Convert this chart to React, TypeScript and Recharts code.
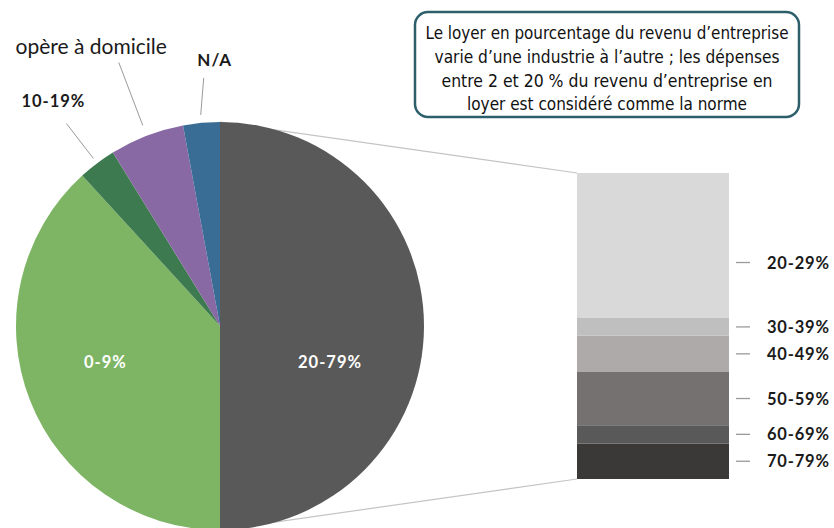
import React from "react";
import { PieChart, Pie, Cell, BarChart, Bar, XAxis, YAxis } from "recharts";

// ---- data ----
const pieNames = ["20-79%", "0-9%", "10-19%", "opère à domicile", "N/A"];
const pieValues = [50, 38.2, 3.0, 5.9, 2.9];

const barNames = ["70-79%", "60-69%", "50-59%", "40-49%", "30-39%", "20-29%"];
const barValues = [5.8, 3.0, 8.7, 5.9, 2.9, 23.7];
const barCategory = "20-79%";

const noteLines = [
  "Le loyer en pourcentage du revenu d’entreprise",
  "varie d’une industrie à l’autre ; les dépenses",
  "entre 2 et 20 % du revenu d’entreprise en",
  "loyer est considéré comme la norme",
];

// ---- styles ----
const pieColors = ["#595959", "#7db564", "#3e7a4f", "#8969a3", "#3a6d96"];
const barColors = ["#3b3838", "#595959", "#767171", "#aeaaaa", "#bfbfbf", "#d9d9d9"];
const noteLineWidths = [363, 345, 331, 280];

const PIE_CX = 220;
const PIE_CY = 326;
const PIE_R = 204;
const BAR_LEFT = 577;
const BAR_TOP = 173;
const BAR_W = 152;
const BAR_H = 306;

const boldFont = "Lato, 'DejaVu Sans', sans-serif";
const noteFont = "'DejaVu Sans Condensed', 'DejaVu Sans', sans-serif";

type LabelCfg = {
  inside?: boolean;
  r?: number;
  dy?: number;
  gap?: number;
  vx?: number;
  vy?: number;
  tx?: number;
  ty?: number;
  bold?: boolean;
  size?: number;
};

const pieLabelStyle: Record<string, LabelCfg> = {
  "20-79%": { inside: true, r: 110, dy: 36 },
  "0-9%": { inside: true, r: 123, dy: -8.5 },
  "10-19%": { gap: 6, vx: -27, vy: -35, tx: -13, ty: -22, bold: true, size: 16.5 },
  "opère à domicile": { gap: 11, vx: -24, vy: -63, tx: -27.5, ty: -17, bold: false, size: 21 },
  "N/A": { gap: 8, vx: 3, vy: -37, tx: 11, ty: -18, bold: true, size: 17 },
};

const barLabelDy: Record<string, number> = { "20-29%": 17 };

const RAD = Math.PI / 180;

const renderPieLabel = (props: any) => {
  const { cx, cy, midAngle, outerRadius, index } = props;
  const name = pieNames[index];
  const cfg = pieLabelStyle[name];
  const c = Math.cos(-midAngle * RAD);
  const s = Math.sin(-midAngle * RAD);
  if (cfg.inside) {
    const x = cx + (cfg.r as number) * c;
    const y = cy + (cfg.r as number) * s + (cfg.dy || 0);
    return (
      <text
        key={"l" + index}
        x={x}
        y={y}
        fill="#ffffff"
        textAnchor="middle"
        dominantBaseline="central"
        style={{ fontFamily: boldFont, fontWeight: 700, fontSize: 16.5, letterSpacing: 1 }}
      >
        {name}
      </text>
    );
  }
  const ex = cx + (outerRadius + (cfg.gap || 0)) * c;
  const ey = cy + (outerRadius + (cfg.gap || 0)) * s;
  const sx = ex + (cfg.vx || 0);
  const sy = ey + (cfg.vy || 0);
  return (
    <g key={"l" + index}>
      <line x1={ex} y1={ey} x2={sx} y2={sy} stroke="#9a9a9a" strokeWidth={1} />
      <text
        x={sx + (cfg.tx || 0)}
        y={sy + (cfg.ty || 0)}
        fill="#1a1a1a"
        textAnchor="middle"
        dominantBaseline="central"
        style={{
          fontFamily: boldFont,
          fontWeight: cfg.bold ? 700 : 400,
          fontSize: cfg.size,
          letterSpacing: cfg.bold ? 1 : 0,
        }}
      >
        {name}
      </text>
    </g>
  );
};

const makeBarLabel = (name: string) => (props: any) => {
  const { x, y, width, height } = props;
  const right = x + width;
  const ly = y + height / 2 + (barLabelDy[name] || 0);
  return (
    <g>
      <line x1={right + 7} y1={ly} x2={right + 21} y2={ly} stroke="#9a9a9a" strokeWidth={1.3} />
      <text
        x={right + 38}
        y={ly}
        fill="#1a1a1a"
        dominantBaseline="central"
        style={{ fontFamily: boldFont, fontWeight: 700, fontSize: 16.5, letterSpacing: 0.8 }}
      >
        {name}
      </text>
    </g>
  );
};

export default function App() {
  const pieData = pieNames.map((n, i) => ({ name: n, value: pieValues[i] }));
  const row: Record<string, any> = { cat: barCategory };
  barNames.forEach((n, i) => (row[n] = barValues[i]));
  const barData = [row];
  const barTotal = barValues.reduce((a, b) => a + b, 0);

  return (
    <div style={{ position: "absolute", left: 0, top: 0, width: 834, height: 528, background: "#fff", overflow: "hidden" }}>
      {/* connectors + note box */}
      <svg width={834} height={528} style={{ position: "absolute", left: 0, top: 0 }}>
        <line x1={PIE_CX} y1={PIE_CY - PIE_R} x2={BAR_LEFT} y2={BAR_TOP} stroke="#c4c4c4" strokeWidth={1.2} />
        <line x1={PIE_CX} y1={PIE_CY + PIE_R} x2={BAR_LEFT} y2={BAR_TOP + BAR_H} stroke="#c4c4c4" strokeWidth={1.2} />
        <rect x={415} y={12} width={384} height={105} rx={13} ry={13} fill="#fff" stroke="#2d5f6a" strokeWidth={2.5} />
        {noteLines.map((t, i) => (
          <text
            key={i}
            x={607}
            y={39 + i * 23.8}
            textAnchor="middle"
            fill="#111"
            textLength={noteLineWidths[i]}
            lengthAdjust="spacingAndGlyphs"
            style={{ fontFamily: noteFont, fontSize: 18, fontStretch: "condensed" }}
          >
            {t}
          </text>
        ))}
      </svg>

      <div style={{ position: "absolute", left: 0, top: 0 }}>
        <PieChart width={450} height={528} margin={{ top: 0, right: 0, bottom: 0, left: 0 }}>
          <Pie
            data={pieData}
            dataKey="value"
            nameKey="name"
            cx={PIE_CX}
            cy={PIE_CY}
            outerRadius={PIE_R}
            startAngle={90}
            endAngle={-270}
            stroke="none"
            label={renderPieLabel}
            labelLine={false}
            isAnimationActive={false}
          >
            {pieData.map((d, i) => (
              <Cell key={d.name} fill={pieColors[i]} />
            ))}
          </Pie>
        </PieChart>
      </div>

      <div style={{ position: "absolute", left: BAR_LEFT, top: BAR_TOP }}>
        <BarChart
          width={834 - BAR_LEFT}
          height={BAR_H}
          data={barData}
          margin={{ top: 0, right: 834 - BAR_LEFT - BAR_W, bottom: 0, left: 0 }}
          barCategoryGap={0}
        >
          <XAxis dataKey="cat" hide />
          <YAxis hide domain={[0, barTotal]} />
          {barNames.map((n, i) => (
            <Bar
              key={n}
              dataKey={n}
              stackId="s"
              fill={barColors[i]}
              isAnimationActive={false}
              label={makeBarLabel(n)}
            />
          ))}
        </BarChart>
      </div>
    </div>
  );
}
